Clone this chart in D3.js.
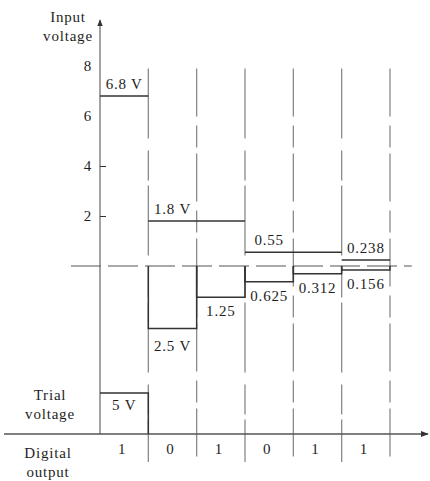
<!DOCTYPE html>
<html>
<head>
<meta charset="utf-8">
<script src="https://cdn.jsdelivr.net/npm/d3@7"></script>
<style>
  body { margin: 0; background: #fff; }
  text { font-family: "Liberation Serif", "DejaVu Serif", serif; fill: #1e1e1e; font-size: 15px; letter-spacing: 0.8px; }
</style>
</head>
<body>
<div id="chart"></div>
<script>
// successive approximation: bit decided in each column
const bits = [1, 0, 1, 0, 1, 1];
const trialVolts = [5, 2.5, 1.25, 0.625, 0.312, 0.156];
const trialLabels = ["5 V", "2.5 V", "1.25", "0.625", "0.312", "0.156"];
const inputVolts = [6.8, 1.8, 1.8, 0.55, 0.55, 0.238];
const inputLabels = ["6.8 V", "1.8 V", "", "0.55", "", "0.238"];
const yTicks = [2, 4, 6, 8];

const width = 430, height = 481;
const ink = "#333", faint = "#8a8a8a";

const svg = d3.select("#chart").append("svg")
  .attr("width", width)
  .attr("height", height);

const x = d3.scaleLinear().domain([0, 6]).range([100, 390]);
const y = d3.scaleLinear().domain([0, 8]).range([266, 66]);
const yTrial = d3.scaleLinear().domain([0, 5]).range([434, 393]);

svg.append("defs").append("marker")
  .attr("id", "arrow")
  .attr("viewBox", "0 0 10 10")
  .attr("refX", 9).attr("refY", 5)
  .attr("markerWidth", 6).attr("markerHeight", 6)
  .attr("orient", "auto-start-reverse")
  .append("path")
  .attr("d", "M0,1 L10,5 L0,9 z")
  .attr("fill", ink);

// column boundaries, faded like the scan
svg.append("g")
  .selectAll("line")
  .data(d3.range(1, 7))
  .enter().append("line")
    .attr("x1", d => x(d)).attr("x2", d => x(d))
    .attr("y1", y(7.9))
    .attr("y2", yTrial(0) + 28)
    .attr("stroke", faint)
    .attr("stroke-width", 1.3)
    .attr("stroke-dasharray", (d, i) => i % 2 ? "48,9,22,6" : "70,12,30,5");

// zero line through the middle
svg.append("line")
  .attr("x1", x(-0.6)).attr("x2", x(6.45))
  .attr("y1", y(0)).attr("y2", y(0))
  .attr("stroke", "#555")
  .attr("stroke-width", 1.2)
  .attr("stroke-dasharray", "30,7");

// vertical input voltage axis
svg.append("line")
  .attr("x1", x(0)).attr("x2", x(0))
  .attr("y1", yTrial(0))
  .attr("y2", 20)
  .attr("stroke", "#666")
  .attr("stroke-width", 1.2)
  .attr("marker-end", "url(#arrow)");

const yAxis = svg.append("g")
  .attr("transform", `translate(${x(0)},0)`)
  .call(d3.axisLeft(y).tickValues(yTicks).tickSize(-6).tickPadding(8));
yAxis.select(".domain").remove();
yAxis.selectAll(".tick line").attr("stroke", ink).attr("display", d => d < 6 ? null : "none");
yAxis.selectAll(".tick text")
  .attr("font-family", null).attr("font-size", null).attr("fill", null);

// horizontal axis with arrow
svg.append("line")
  .attr("x1", 4).attr("x2", 428)
  .attr("y1", yTrial(0)).attr("y2", yTrial(0))
  .attr("stroke", "#555")
  .attr("stroke-width", 1.3)
  .attr("marker-end", "url(#arrow)");

// input voltage levels (held while bit is 0)
const runs = [];
inputVolts.forEach((v, i) => {
  if (runs.length && runs[runs.length - 1].v === v) runs[runs.length - 1].end = i + 1;
  else runs.push({ v: v, start: i, end: i + 1, label: inputLabels[i] });
});

svg.append("g")
  .selectAll("line")
  .data(runs)
  .enter().append("line")
    .attr("x1", d => x(d.start)).attr("x2", d => x(d.end))
    .attr("y1", d => y(d.v)).attr("y2", d => y(d.v))
    .attr("stroke", ink)
    .attr("stroke-width", 1.5);

svg.append("g")
  .selectAll("text")
  .data(runs)
  .enter().append("text")
    .attr("x", d => x(d.start + 0.5))
    .attr("y", d => y(d.v) - 7)
    .attr("text-anchor", "middle")
    .text(d => d.label);

// trial voltages: first one at the bottom, others hang below zero
svg.append("path")
  .attr("d", `M${x(0)},${yTrial(trialVolts[0])}H${x(1)}V${yTrial(0)}`)
  .attr("fill", "none")
  .attr("stroke", ink)
  .attr("stroke-width", 1.5);

svg.append("text")
  .attr("x", x(0.5))
  .attr("y", yTrial(trialVolts[0]) + 17)
  .attr("text-anchor", "middle")
  .text(trialLabels[0]);

const trials = trialVolts.slice(1).map((t, i) => ({ t: t, col: i + 1, label: trialLabels[i + 1] }));

svg.append("g")
  .selectAll("path")
  .data(trials)
  .enter().append("path")
    .attr("d", d => `M${x(d.col)},${y(0)}V${y(-d.t)}H${x(d.col + 1)}V${y(0)}`)
    .attr("fill", "none")
    .attr("stroke", ink)
    .attr("stroke-width", 1.5);

svg.append("g")
  .selectAll("text")
  .data(trials)
  .enter().append("text")
    .attr("x", d => x(d.col + 0.5))
    .attr("y", d => y(-d.t) + (d.col === 1 ? 22 : 19))
    .attr("text-anchor", "middle")
    .text(d => d.label);

// digital output bits
svg.append("g")
  .selectAll("text")
  .data(bits)
  .enter().append("text")
    .attr("x", (d, i) => x(i + 0.5) - 2)
    .attr("y", yTrial(0) + 20)
    .attr("text-anchor", "middle")
    .text(d => d);

// side labels
const side = [
  { lines: ["Input", "voltage"], x: 68, y: 22 },
  { lines: ["Trial", "voltage"], x: 50, y: 400 },
  { lines: ["Digital", "output"], x: 48, y: 458 }
];
side.forEach(s => {
  const t = svg.append("text")
    .attr("x", s.x).attr("y", s.y)
    .attr("text-anchor", "middle");
  s.lines.forEach((l, i) => {
    t.append("tspan")
      .attr("x", s.x)
      .attr("dy", i ? 19 : 0)
      .text(l);
  });
});
</script>
</body>
</html>
